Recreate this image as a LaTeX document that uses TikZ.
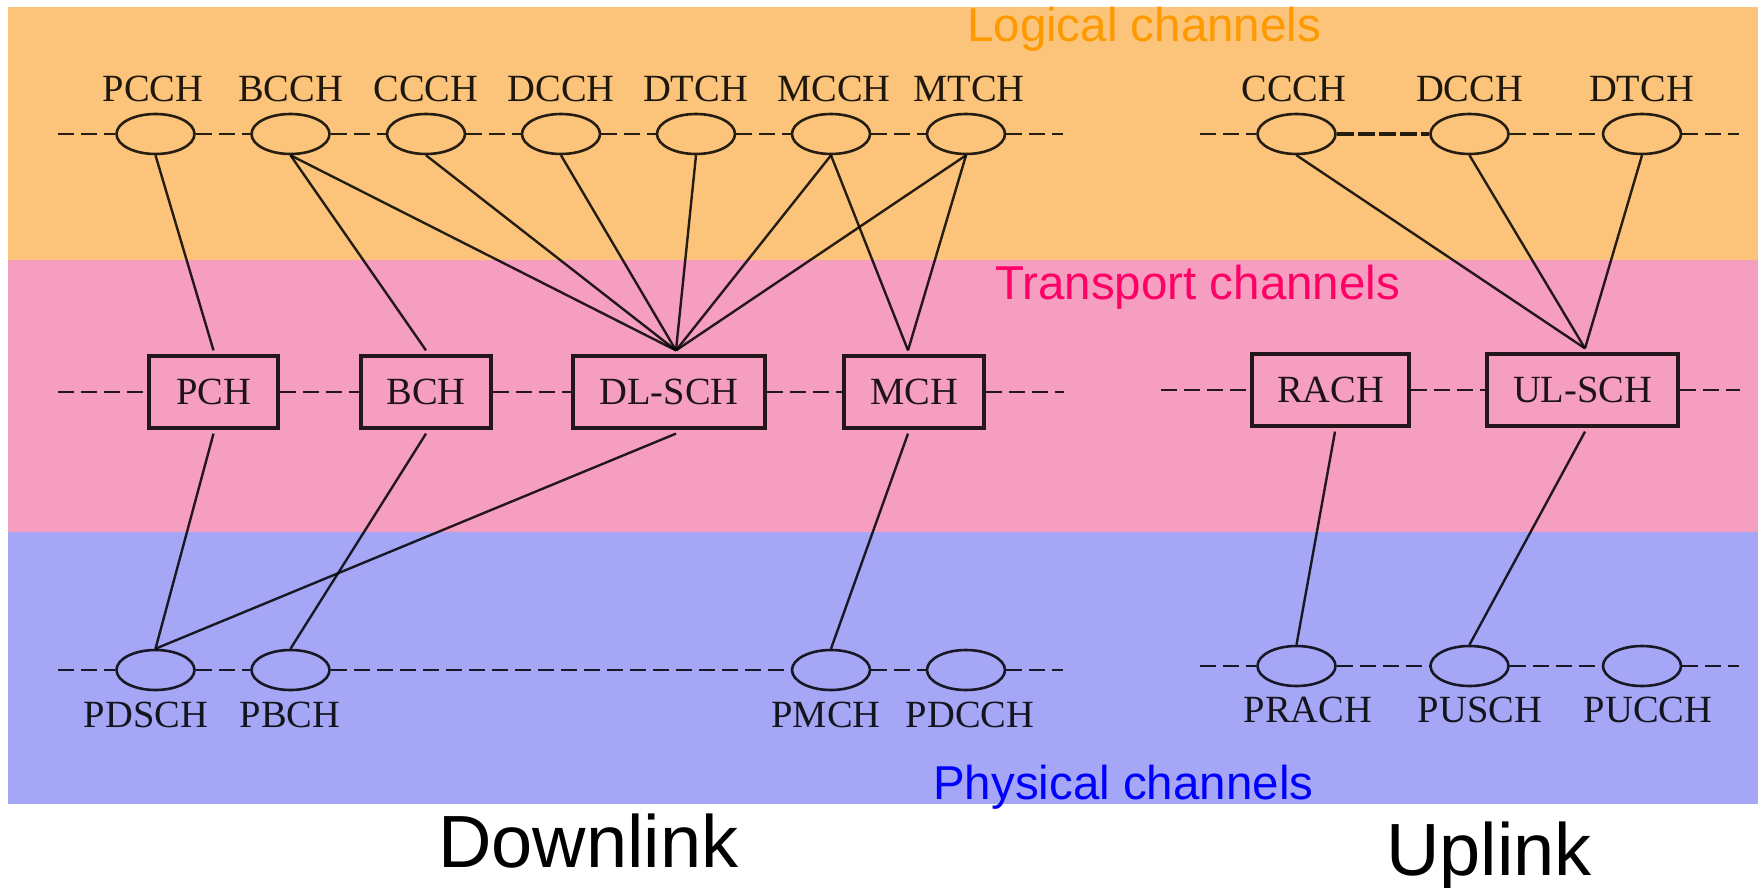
\documentclass[tikz,border=0pt]{standalone}
\usepackage{fontspec}
\setmainfont{Liberation Serif}
\setsansfont{Liberation Sans}
\usetikzlibrary{shapes.geometric}

\definecolor{bandO}{RGB}{251,196,122}
\definecolor{bandP}{RGB}{246,158,192}
\definecolor{bandB}{RGB}{166,166,246}
\definecolor{capO}{RGB}{255,153,0}
\definecolor{capP}{RGB}{255,0,102}
\definecolor{capB}{RGB}{0,0,255}

\begin{document}
\begin{tikzpicture}[x=1pt,y=-1pt,
  chan/.style={draw, ellipse, minimum width=78pt, minimum height=40pt,
    inner sep=0pt, line width=2.6pt, draw opacity=0.85},
  tbox/.style={draw, rectangle, minimum height=72pt, inner sep=0pt,
    line width=3.2pt, draw opacity=0.85, text opacity=0.88,
    font=\fontsize{38.5}{40}\selectfont},
  lbl/.style={inner sep=0pt, anchor=base, text opacity=0.88,
    font=\fontsize{38.5}{40}\selectfont},
  link/.style={line width=2.4pt, draw opacity=0.85},
  rail/.style={line width=2.8pt, draw opacity=0.85, dash pattern=on 16pt off 7pt},
  layer/.style={inner sep=0pt, anchor=base west,
    font=\sffamily\fontsize{47.5}{50}\selectfont},
  side/.style={inner sep=0pt, anchor=base west,
    font=\sffamily\fontsize{74}{76}\selectfont}
]
\useasboundingbox (0,0) rectangle (1758,888);

% layer bands
\fill[bandO] (8,7) rectangle (1758,260);
\fill[bandP] (8,260) rectangle (1758,532);
\fill[bandB] (8,532) rectangle (1758,804);

% layer captions
\node[layer, text=capO] (capLog) at (967,42) {Logical channels};
\node[layer, text=capP] (capTr) at (995,299) {Transport channels};
\node[layer, text=capB] (capPhy) at (933,799) {Physical channels};
\node[side] (dlcap) at (438,867) {Downlink};
\node[side] (ulcap) at (1386,875) {Uplink};

% ---------- downlink logical channels
\node[chan] (pcch) at (155.5,134) {};
\node[chan] (bcch) at (290.5,134) {};
\node[chan] (ccch) at (426,134) {};
\node[chan] (dcch) at (561,134) {};
\node[chan] (dtch) at (696,134) {};
\node[chan] (mcch) at (831,134) {};
\node[chan] (mtch) at (966,134) {};
\node[lbl] (pcchL) at (153,102) {PCCH};
\node[lbl] (bcchL) at (290.5,102) {BCCH};
\node[lbl] (ccchL) at (426,102) {CCCH};
\node[lbl] (dcchL) at (561,102) {DCCH};
\node[lbl] (dtchL) at (695.5,102) {DTCH};
\node[lbl] (mcchL) at (834,102) {MCCH};
\node[lbl] (mtchL) at (969,102) {MTCH};
\coordinate (dlLs) at (58,134);
\coordinate (dlLe) at (1063,134);
\draw[rail] (dlLs) -- (pcch.west);
\draw[rail] (pcch.east) -- (bcch.west);
\draw[rail] (bcch.east) -- (ccch.west);
\draw[rail] (ccch.east) -- (dcch.west);
\draw[rail] (dcch.east) -- (dtch.west);
\draw[rail] (dtch.east) -- (mcch.west);
\draw[rail] (mcch.east) -- (mtch.west);
\draw[rail] (mtch.east) -- (dlLe);

% ---------- uplink logical channels
\node[chan] (uccch) at (1296.5,134) {};
\node[chan] (udcch) at (1469.5,134) {};
\node[chan] (udtch) at (1642,134) {};
\node[lbl] (uccchL) at (1294,102) {CCCH};
\node[lbl] (udcchL) at (1469.5,102) {DCCH};
\node[lbl] (udtchL) at (1641.5,102) {DTCH};
\coordinate (ulLs) at (1200,134);
\coordinate (ulLe) at (1739,134);
\draw[rail] (ulLs) -- (uccch.west);
\draw[rail, line width=3.8pt, dash pattern=on 17pt off 4pt] (uccch.east) -- (udcch.west);
\draw[rail] (udcch.east) -- (udtch.west);
\draw[rail] (udtch.east) -- (ulLe);

% ---------- downlink transport channels
\node[tbox, minimum width=129pt] (pch) at (213.5,392) {PCH};
\node[tbox, minimum width=130pt] (bch) at (426,392) {BCH};
\node[tbox, minimum width=192pt] (dlsch) at (669,392) {DL-SCH};
\node[tbox, minimum width=140pt] (mch) at (914,392) {MCH};
\coordinate (dlTs) at (58,392);
\coordinate (dlTe) at (1064,392);
\draw[rail] (dlTs) -- (pch.west);
\draw[rail] (pch.east) -- (bch.west);
\draw[rail] (bch.east) -- (dlsch.west);
\draw[rail] (dlsch.east) -- (mch.west);
\draw[rail] (mch.east) -- (dlTe);

% ---------- uplink transport channels
\node[tbox, minimum width=157pt] (rach) at (1330.5,390) {RACH};
\node[tbox, minimum width=191pt] (ulsch) at (1582.5,390) {UL-SCH};
\coordinate (ulTs) at (1161,390);
\coordinate (ulTe) at (1740,390);
\draw[rail] (ulTs) -- (rach.west);
\draw[rail] (rach.east) -- (ulsch.west);
\draw[rail] (ulsch.east) -- (ulTe);

% ---------- downlink physical channels
\node[chan] (pdsch) at (155.5,670) {};
\node[chan] (pbch) at (290.5,670) {};
\node[chan] (pmch) at (831,670) {};
\node[chan] (pdcch) at (966,670) {};
\node[lbl] (pdschL) at (146,727) {PDSCH};
\node[lbl] (pbchL) at (290,727) {PBCH};
\node[lbl] (pmchL) at (826,727) {PMCH};
\node[lbl] (pdcchL) at (970,727) {PDCCH};
\coordinate (dlPs) at (58,670);
\coordinate (dlPe) at (1063,670);
\draw[rail] (dlPs) -- (pdsch.west);
\draw[rail] (pdsch.east) -- (pbch.west);
\draw[rail] (pbch.east) -- (pmch.west);
\draw[rail] (pmch.east) -- (pdcch.west);
\draw[rail] (pdcch.east) -- (dlPe);

% ---------- uplink physical channels
\node[chan] (prach) at (1296.5,666) {};
\node[chan] (pusch) at (1469.5,666) {};
\node[chan] (pucch) at (1642,666) {};
\node[lbl] (prachL) at (1308,722) {PRACH};
\node[lbl] (puschL) at (1480,722) {PUSCH};
\node[lbl] (pucchL) at (1648,722) {PUCCH};
\coordinate (ulPs) at (1200,666);
\coordinate (ulPe) at (1739,666);
\draw[rail] (ulPs) -- (prach.west);
\draw[rail] (prach.east) -- (pusch.west);
\draw[rail] (pusch.east) -- (pucch.west);
\draw[rail] (pucch.east) -- (ulPe);

% ---------- mappings, downlink
\coordinate (dlTop) at ([xshift=7pt,yshift=4pt]dlsch.north);
\coordinate (dlBot) at ([xshift=7pt,yshift=-4pt]dlsch.south);
\coordinate (mchTop) at ([xshift=-6pt,yshift=4pt]mch.north);
\coordinate (mchBot) at ([xshift=-6pt,yshift=-4pt]mch.south);
\draw[link] (pcch.south) -- ([yshift=4pt]pch.north);
\draw[link] (bcch.south) -- ([yshift=4pt]bch.north);
\draw[link] (bcch.south) -- (dlTop);
\draw[link] (ccch.south) -- (dlTop);
\draw[link] (dcch.south) -- (dlTop);
\draw[link] (dtch.south) -- (dlTop);
\draw[link] (mcch.south) -- (dlTop);
\draw[link] (mcch.south) -- (mchTop);
\draw[link] (mtch.south) -- (dlTop);
\draw[link] (mtch.south) -- (mchTop);
\draw[link] ([yshift=-4pt]pch.south) -- (pdsch.north);
\draw[link] ([yshift=-4pt]bch.south) -- (pbch.north);
\draw[link] (dlBot) -- (pdsch.north);
\draw[link] (mchBot) -- (pmch.north);

% ---------- mappings, uplink
\coordinate (ulTop) at ([xshift=2.5pt,yshift=4pt]ulsch.north);
\coordinate (ulBot) at ([xshift=2.5pt,yshift=-4pt]ulsch.south);
\draw[link] (uccch.south) -- (ulTop);
\draw[link] (udcch.south) -- (ulTop);
\draw[link] (udtch.south) -- (ulTop);
\draw[link] ([xshift=4.5pt,yshift=-4pt]rach.south) -- (prach.north);
\draw[link] (ulBot) -- (pusch.north);
\end{tikzpicture}
\end{document}
